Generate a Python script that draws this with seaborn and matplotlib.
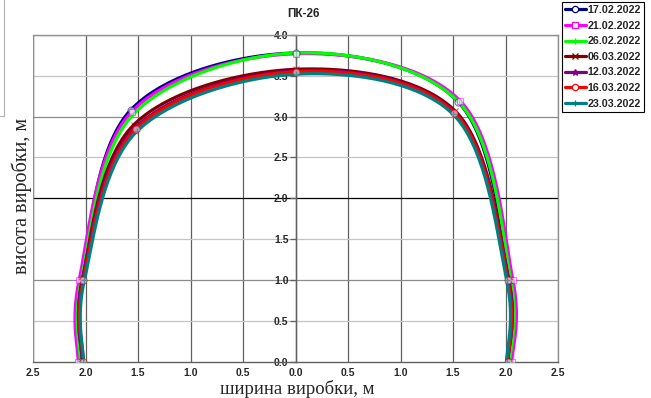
import numpy as np
import pandas as pd
import matplotlib
matplotlib.use("Agg")
import matplotlib.pyplot as plt
from matplotlib.lines import Line2D
from matplotlib.ticker import FuncFormatter, MultipleLocator
import seaborn as sns

# Survey dates and measured contour points of the tunnel section (width x, height y, metres)
dates = ["17.02.2022", "21.02.2022", "26.02.2022", "06.03.2022",
         "12.03.2022", "16.03.2022", "23.03.2022"]

x_1702 = [-2.04, -2.04, -1.57, 0.0, 1.55, 2.04, 2.03]
y_1702 = [0.0, 1.0, 3.08, 3.78, 3.18, 1.0, 0.0]
x_2102 = [-2.07, -2.06, -1.56, 0.0, 1.57, 2.07, 2.06]
y_2102 = [0.0, 1.0, 3.06, 3.77, 3.19, 1.0, 0.0]
x_2602 = [-2.05, -2.04, -1.55, 0.0, 1.56, 2.05, 2.04]
y_2602 = [0.0, 1.0, 3.02, 3.78, 3.17, 1.0, 0.0]
x_0603 = [-2.03, -2.03, -1.54, 0.0, 1.52, 2.03, 2.02]
y_0603 = [0.0, 1.0, 2.90, 3.58, 3.07, 1.0, 0.0]
x_1203 = [-2.03, -2.03, -1.53, 0.0, 1.51, 2.03, 2.02]
y_1203 = [0.0, 1.0, 2.86, 3.56, 3.06, 1.0, 0.0]
x_1603 = [-2.02, -2.02, -1.52, 0.0, 1.51, 2.02, 2.02]
y_1603 = [0.0, 1.0, 2.85, 3.55, 3.05, 1.0, 0.0]
x_2303 = [-2.02, -2.01, -1.51, 0.0, 1.50, 2.01, 2.01]
y_2303 = [0.0, 1.0, 2.82, 3.52, 3.03, 1.0, 0.0]

xs = [x_1702, x_2102, x_2602, x_0603, x_1203, x_1603, x_2303]
ys = [y_1702, y_2102, y_2602, y_0603, y_1203, y_1603, y_2303]

colors = ["#000080", "#ff00ff", "#00ff00", "#800000", "#800080", "#ff0000", "#008080"]
markers = ["o", "s", "|", "x", "*", "o", "+"]
mfaces = ["white", "white", "none", "none", "none", "white", "none"]


def smooth(px, py, n=40):
    """Catmull-Rom style Bezier smoothing through the measured points."""
    P = np.column_stack([px, py]).astype(float)
    P_ext = np.vstack([P[0], P, P[-1]])
    out = []
    t = np.linspace(0, 1, n)[:, None]
    for i in range(len(P) - 1):
        p0, p1, p2, p3 = P_ext[i], P_ext[i + 1], P_ext[i + 2], P_ext[i + 3]
        c1 = p1 + (p2 - p0) / 6.0
        c2 = p2 - (p3 - p1) / 6.0
        seg = ((1 - t) ** 3) * p1 + 3 * ((1 - t) ** 2) * t * c1 + 3 * (1 - t) * t ** 2 * c2 + t ** 3 * p2
        out.append(seg if i == 0 else seg[1:])
    return np.vstack(out)


rows = []
for d, px, py in zip(dates, xs, ys):
    s = smooth(px, py)
    for k, (a, b) in enumerate(s):
        rows.append({"date": d, "order": k, "x": a, "y": b})
df = pd.DataFrame(rows)

sns.set_style("white")
plt.rcParams["font.family"] = ["Liberation Sans", "DejaVu Sans"]

fig = plt.figure(figsize=(6.51, 3.98), dpi=100)
ax = fig.add_axes([33 / 651, 36.5 / 398, 525 / 651, 326.5 / 398])

# grid
for gx in np.arange(-2.5, 2.51, 0.5):
    ax.axvline(gx, color="#606060", lw=0.9, zorder=0)
for gy in np.arange(0.5, 4.01, 0.5):
    if abs(gy - 2.0) < 1e-9:
        c = "#000000"
    elif abs(gy - round(gy)) < 1e-9:
        c = "#8c8c8c"
    else:
        c = "#c4c4c4"
    ax.axhline(gy, color=c, lw=0.9, zorder=0)

sns.lineplot(data=df, x="x", y="y", hue="date", units="date", estimator=None,
             sort=False, palette=dict(zip(dates, colors)), hue_order=dates,
             lw=2.3, legend=False, ax=ax, zorder=3)

for px, py, c, m, mf in zip(xs, ys, colors, markers, mfaces):
    ax.plot(px, py, ls="none", marker=m, ms=5, mfc=mf, mec=c, mew=0.8, zorder=4, alpha=0.55)

ax.set_xlim(-2.5, 2.5)
ax.set_ylim(0, 4.0)
ax.set_xlabel("")
ax.set_ylabel("")
ax.xaxis.set_major_locator(MultipleLocator(0.5))
ax.yaxis.set_major_locator(MultipleLocator(0.5))
ax.xaxis.set_major_formatter(FuncFormatter(lambda v, p: f"{abs(v):.1f}"))
ax.yaxis.set_major_formatter(FuncFormatter(lambda v, p: f"{v:.1f}"))

ax.spines["left"].set_position(("data", 0))
for sp in ["left", "bottom"]:
    ax.spines[sp].set_color("#606060")
    ax.spines[sp].set_linewidth(1.0)
for sp in ["top", "right"]:
    ax.spines[sp].set_color("#909090")
    ax.spines[sp].set_linewidth(1.0)
ax.axvline(-2.5, color="#909090", lw=1.0, zorder=1)

ax.tick_params(axis="x", direction="inout", length=6, width=0.9, color="#606060",
               pad=2, labelsize=7.5)
ax.tick_params(axis="y", direction="out", length=4, width=0.9, color="#606060",
               pad=1, labelsize=7.5, left=True)
for lab in ax.get_xticklabels() + ax.get_yticklabels():
    lab.set_fontweight("bold")

# axis titles placed in figure coordinates (the y axis sits in the middle of the plot)
serif = ["Liberation Serif", "DejaVu Serif"]
fig.text(297 / 651, 1 - 394 / 398, "ширина виробки, м", family=serif, fontsize=13.5,
         ha="center", va="baseline")
fig.text(22 / 651, 1 - 196 / 398, "висота виробки, м", family=serif, fontsize=14.5,
         ha="center", va="center", rotation=90)

fig.text(303 / 651, 1 - 14 / 398, "ПК-26", ha="center", va="center",
         fontsize=8.5, fontweight="bold")

handles = [Line2D([], [], color=c, lw=2.3, marker=m, ms=4.5, mfc=mf, mec=c, mew=0.9)
           for c, m, mf in zip(colors, markers, mfaces)]
leg = fig.legend(handles, dates, loc="upper left",
                 bbox_to_anchor=(562 / 651, 1 - 2 / 398), bbox_transform=fig.transFigure,
                 borderaxespad=0, frameon=True, fancybox=False, framealpha=1,
                 edgecolor="black", handlelength=1.9, handletextpad=0.15,
                 labelspacing=0.52, borderpad=0.3,
                 prop={"family": "Liberation Sans", "weight": "bold", "size": 7.7})
leg.get_frame().set_linewidth(0.8)

# fragment of a neighbouring frame at the upper left
fig.add_artist(Line2D([4 / 651, 4 / 651], [1, 1 - 116 / 398], color="#b0b0b0", lw=0.8,
                      transform=fig.transFigure))
fig.add_artist(Line2D([0, 4 / 651], [1 - 116 / 398, 1 - 116 / 398], color="#b0b0b0", lw=0.8,
                      transform=fig.transFigure))

fig.savefig("out.png", dpi=100, facecolor="white")
